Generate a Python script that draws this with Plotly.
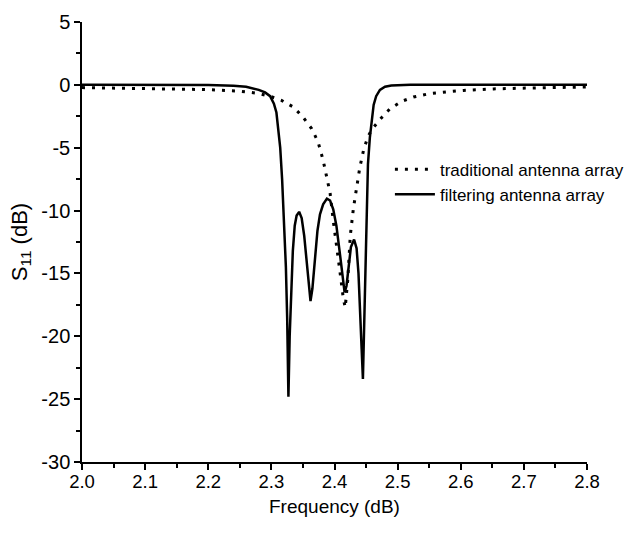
import plotly.graph_objects as go

# traditional antenna array (dotted)
trad_f = [2.00, 2.10, 2.20, 2.25, 2.28, 2.30, 2.316, 2.335, 2.350, 2.364, 2.374, 2.382,
          2.388, 2.393, 2.398, 2.403, 2.409, 2.414, 2.417, 2.421, 2.425, 2.430, 2.435,
          2.440, 2.446, 2.453, 2.460, 2.472, 2.488, 2.507, 2.525, 2.552, 2.604, 2.652,
          2.72, 2.80]
trad_s11 = [-0.22, -0.28, -0.38, -0.5, -0.68, -0.95, -1.23, -1.77, -2.56, -3.5, -4.55, -6.0,
            -7.3, -8.6, -10.8, -12.9, -15.0, -17.0, -17.7, -15.5, -12.0, -9.8, -8.0,
            -6.6, -5.2, -4.1, -3.5, -2.75, -1.9, -1.3, -0.97, -0.68, -0.44, -0.32,
            -0.24, -0.17]

# filtering antenna array (solid)
filt_f = [2.00, 2.10, 2.20, 2.24, 2.26, 2.28, 2.29, 2.298, 2.304, 2.308, 2.311, 2.314,
          2.317, 2.320, 2.323, 2.325, 2.327, 2.329, 2.331, 2.334, 2.337, 2.340, 2.344,
          2.348, 2.352, 2.356, 2.359, 2.362, 2.365, 2.369, 2.373, 2.377, 2.382, 2.388,
          2.393, 2.398, 2.403, 2.408, 2.412, 2.416, 2.419, 2.422, 2.426, 2.431, 2.435,
          2.438, 2.441, 2.443, 2.445, 2.447, 2.449, 2.451, 2.453, 2.456, 2.459, 2.462,
          2.466, 2.472, 2.48, 2.49, 2.52, 2.60, 2.80]
filt_s11 = [0.0, 0.0, -0.02, -0.08, -0.15, -0.4, -0.6, -0.9, -1.5, -2.2, -3.4, -5.0,
            -7.5, -10.5, -14.5, -18.5, -24.8, -20.0, -16.5, -13.2, -11.2, -10.4, -10.1,
            -10.6, -12.0, -14.0, -15.8, -17.2, -16.2, -13.8, -11.6, -10.3, -9.5, -9.05,
            -9.2, -9.9, -11.2, -13.2, -15.0, -16.5, -16.0, -14.4, -12.9, -12.3, -13.0,
            -15.0, -18.0, -21.0, -23.4, -19.0, -13.5, -8.8, -6.3, -4.2, -2.6, -1.6,
            -0.9, -0.4, -0.15, -0.05, 0.0, 0.0, 0.0]

x_ticks = [2.0, 2.1, 2.2, 2.3, 2.4, 2.5, 2.6, 2.7, 2.8]
x_tick_labels = ["2.0", "2.1", "2.2", "2.3", "2.4", "2.5", "2.6", "2.7", "2.8"]
y_ticks = [5, 0, -5, -10, -15, -20, -25, -30]
y_tick_labels = ["5", "0", "-5", "-10", "-15", "-20", "-25", "-30"]

fig = go.Figure()
fig.add_trace(go.Scatter(x=trad_f, y=trad_s11, mode="lines", name="traditional antenna array",
                         line=dict(color="black", width=3, dash="3px,7px")))
fig.add_trace(go.Scatter(x=filt_f, y=filt_s11, mode="lines", name="filtering antenna array",
                         line=dict(color="black", width=2.5)))

font_family = "Liberation Sans, Arial, sans-serif"
fig.update_layout(
    width=634, height=534,
    margin=dict(l=82, r=47, t=22, b=72, autoexpand=False),
    plot_bgcolor="white", paper_bgcolor="white",
    font=dict(family=font_family, color="black", size=18),
    showlegend=True,
    legend=dict(xref="container", yref="container", x=0.615, y=0.716,
                xanchor="left", yanchor="top", itemwidth=40,
                bgcolor="rgba(0,0,0,0)", font=dict(size=17), tracegroupgap=0),
    xaxis=dict(range=[2.0, 2.8], tickvals=x_ticks, ticktext=x_tick_labels, automargin=False,
               showline=True, linecolor="black", linewidth=1.5, mirror=False,
               ticks="outside", ticklen=6, tickwidth=1.5, tickcolor="black",
               ticklabelstandoff=-4,
               showgrid=False, zeroline=False, tickfont=dict(size=18.5),
               minor=dict(dtick=0.05, ticks="outside", ticklen=4, tickwidth=1.5, tickcolor="black", showgrid=False)),
    yaxis=dict(range=[-30, 5], tickvals=y_ticks, ticktext=y_tick_labels, automargin=False,
               showline=True, linecolor="black", linewidth=1.5, mirror=False,
               ticks="outside", ticklen=6, tickwidth=1.5, tickcolor="black",
               showgrid=False, zeroline=False, tickfont=dict(size=20),
               minor=dict(dtick=2.5, ticks="outside", ticklen=4, tickwidth=1.5, tickcolor="black", showgrid=False),
               title=dict(text="S<sub>11</sub> (dB)", standoff=8, font=dict(size=22))),
    annotations=[dict(text="Frequency (dB)", xref="paper", yref="paper", x=0.5, y=-0.1,
                      xanchor="center", yanchor="middle", showarrow=False, font=dict(size=19))],
)

fig.write_html("out.html")
